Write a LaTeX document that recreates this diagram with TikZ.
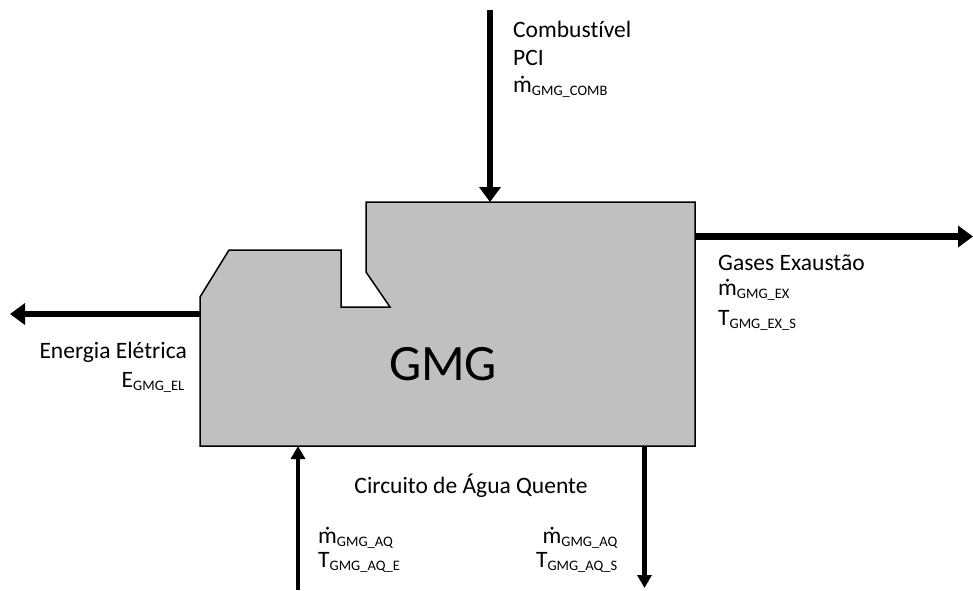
\documentclass[tikz,border=0pt]{standalone}
\usepackage{fontspec}
\setmainfont{Carlito}[Ligatures=NoCommon]
\usetikzlibrary{arrows.meta}
\definecolor{bodygray}{RGB}{192,192,192}
\tikzset{
  flowbig/.style={line width=6.5pt, -{Triangle[length=15pt,width=21pt]}},
  flowsmall/.style={line width=4.5pt, -{Triangle[length=13pt,width=14pt]}},
  lbl/.style={inner sep=0pt, font=\fontsize{23.5}{28}\selectfont}
}
\newcommand{\ix}[1]{\textsubscript{\fontsize{14.5}{14.5}\selectfont #1}}
\begin{document}
\begin{tikzpicture}[x=1pt,y=-1pt]
\useasboundingbox (0,0) rectangle (973,590);
\fill[white] (0,0) rectangle (973,590);
\draw[fill=bodygray, line width=1.5pt, line join=miter]
  (200,446) -- (200,297) -- (229,250) -- (341,250) -- (341,307) -- (390,307)
  -- (366,272) -- (366,202) -- (695,202) -- (695,446) -- cycle;
\node[inner sep=0pt, anchor=base, font=\fontsize{51}{51}\selectfont] (gmg) at (443,380) {GMG};
\coordinate (fuelsrc) at (490,10);
\coordinate (fuelin) at (490,202);
\coordinate (exout) at (695,236.5);
\coordinate (exend) at (973,236.5);
\coordinate (elout) at (200,314);
\coordinate (elend) at (10,314);
\coordinate (aqsrc) at (298,590);
\coordinate (aqin) at (298,446);
\coordinate (aqout) at (644.5,446);
\coordinate (aqend) at (644.5,588);
\draw[flowbig] (fuelsrc) -- (fuelin);
\draw[flowbig] (exout) -- (exend);
\draw[flowbig] (elout) -- (elend);
\draw[flowsmall] (aqsrc) -- (aqin);
\draw[flowsmall] (aqout) -- (aqend);
\node[lbl, anchor=base west] (fuel1) at (513,37.5) {Combustível};
\node[lbl, anchor=base west] (fuel2) at (513,65) {PCI};
\node[lbl, anchor=base west] (fuel3) at (513,92) {ṁ\ix{GMG\_COMB}};
\node[lbl, anchor=base west] (ex1) at (718,270) {Gases Exaustão};
\node[lbl, anchor=base west] (ex2) at (718,295) {ṁ\ix{GMG\_EX}};
\node[lbl, anchor=base west] (ex3) at (718,325) {T\ix{GMG\_EX\_S}};
\node[lbl, anchor=base east] (el1) at (187,358) {Energia Elétrica};
\node[lbl, anchor=base east] (el2) at (185,387) {E\ix{GMG\_EL}};
\node[lbl, anchor=base] (aq) at (471,493) {Circuito de Água Quente};
\node[lbl, anchor=base west] (aqin1) at (318,543) {ṁ\ix{GMG\_AQ}};
\node[lbl, anchor=base west] (aqin2) at (318,567) {T\ix{GMG\_AQ\_E}};
\node[lbl, anchor=base east] (aqout1) at (618,543) {ṁ\ix{GMG\_AQ}};
\node[lbl, anchor=base east] (aqout2) at (618,567) {T\ix{GMG\_AQ\_S}};
\end{tikzpicture}
\end{document}
